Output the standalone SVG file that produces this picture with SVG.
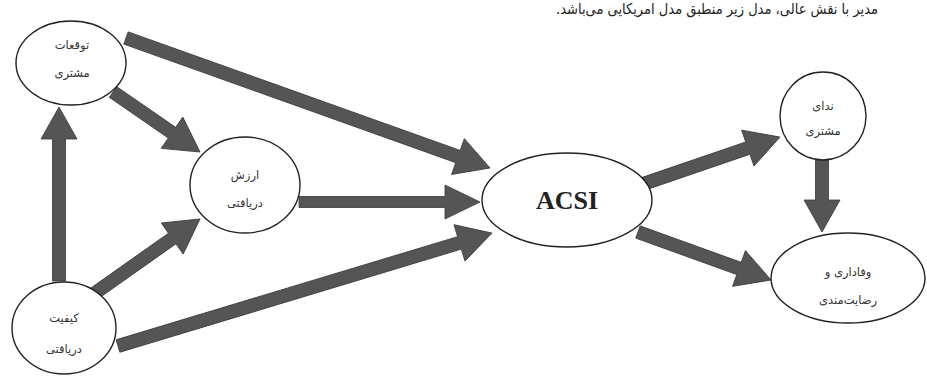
<svg xmlns="http://www.w3.org/2000/svg" width="927" height="377" viewBox="0 0 927 377">
<defs>
<style>
.node{fill:#fff;stroke:#222;stroke-width:1.4}
.fa{font-family:"DejaVu Sans",sans-serif;font-size:11.5px;fill:#333;text-anchor:middle;direction:rtl}
.arr{fill:#555;stroke:#3a3a3a;stroke-width:0.8}
</style>
</defs>
<rect width="927" height="377" fill="#fff"/>
<text x="878" y="14" font-family="DejaVu Sans, sans-serif" font-size="15" fill="#222" direction="rtl" text-anchor="start" textLength="322" lengthAdjust="spacingAndGlyphs">مدیر با نقش عالی، مدل زیر منطبق مدل امریکایی می‌باشد.</text>
<g id="connectors">
<path class="arr" transform="translate(126,38) rotate(19.65)" d="M0,-6.5 H352.5 V-19 L386.5,0 L352.5,19 V6.5 H0 Z"/>
<path class="arr" transform="translate(113,92) rotate(34.6)" d="M0,-6.5 H71.7 V-19 L105.7,0 L71.7,19 V6.5 H0 Z"/>
<path class="arr" transform="translate(95,293) rotate(-35.2)" d="M0,-6.5 H94.5 V-19 L128.5,0 L94.5,19 V6.5 H0 Z"/>
<path class="arr" transform="translate(299,202) rotate(0)" d="M0,-5.5 H146 V-17 L181,0 L146,17 V5.5 H0 Z"/>
<path class="arr" transform="translate(118,346) rotate(-16.8)" d="M0,-6.5 H356.7 V-19 L390.7,0 L356.7,19 V6.5 H0 Z"/>
<path class="arr" transform="translate(59,281) rotate(-90)" d="M0,-6.5 H142 V-18 L174,0 L142,18 V6.5 H0 Z"/>
<path class="arr" transform="translate(643,184) rotate(-18.9)" d="M0,-6.5 H110.8 V-19 L144.8,0 L110.8,19 V6.5 H0 Z"/>
<path class="arr" transform="translate(638,232) rotate(19.85)" d="M0,-6.5 H107.4 V-19 L141.4,0 L107.4,19 V6.5 H0 Z"/>
<path class="arr" transform="translate(822,160) rotate(90)" d="M0,-6.5 H40 V-18 L72,0 L40,18 V6.5 H0 Z"/>
</g>
<g id="n-expect">
<ellipse class="node" cx="71" cy="63" rx="55" ry="42"/>
<text class="fa" x="72" y="49">توقعات</text>
<text class="fa" x="72" y="77">مشتری</text>
</g>
<g id="n-value">
<ellipse class="node" cx="245" cy="185" rx="55" ry="48"/>
<text class="fa" x="245" y="179">ارزش</text>
<text class="fa" x="245" y="207">دریافتی</text>
</g>
<g id="n-quality">
<ellipse class="node" cx="64" cy="328" rx="52" ry="46"/>
<text class="fa" x="64" y="322">کیفیت</text>
<text class="fa" x="64" y="353">دریافتی</text>
</g>
<g id="n-acsi">
<ellipse class="node" cx="567" cy="200" rx="85" ry="47"/>
<text x="567" y="209" font-family="Liberation Serif, serif" font-size="26" font-weight="bold" fill="#222" text-anchor="middle">ACSI</text>
</g>
<g id="n-voice">
<ellipse class="node" cx="823" cy="116" rx="43" ry="44"/>
<text class="fa" x="823" y="110">ندای</text>
<text class="fa" x="823" y="135">مشتری</text>
</g>
<g id="n-loyalty">
<ellipse class="node" cx="848" cy="278" rx="77" ry="45"/>
<text class="fa" x="848" y="276">وفاداری و</text>
<text class="fa" x="848" y="304">رضایت‌مندی</text>
</g>
</svg>
